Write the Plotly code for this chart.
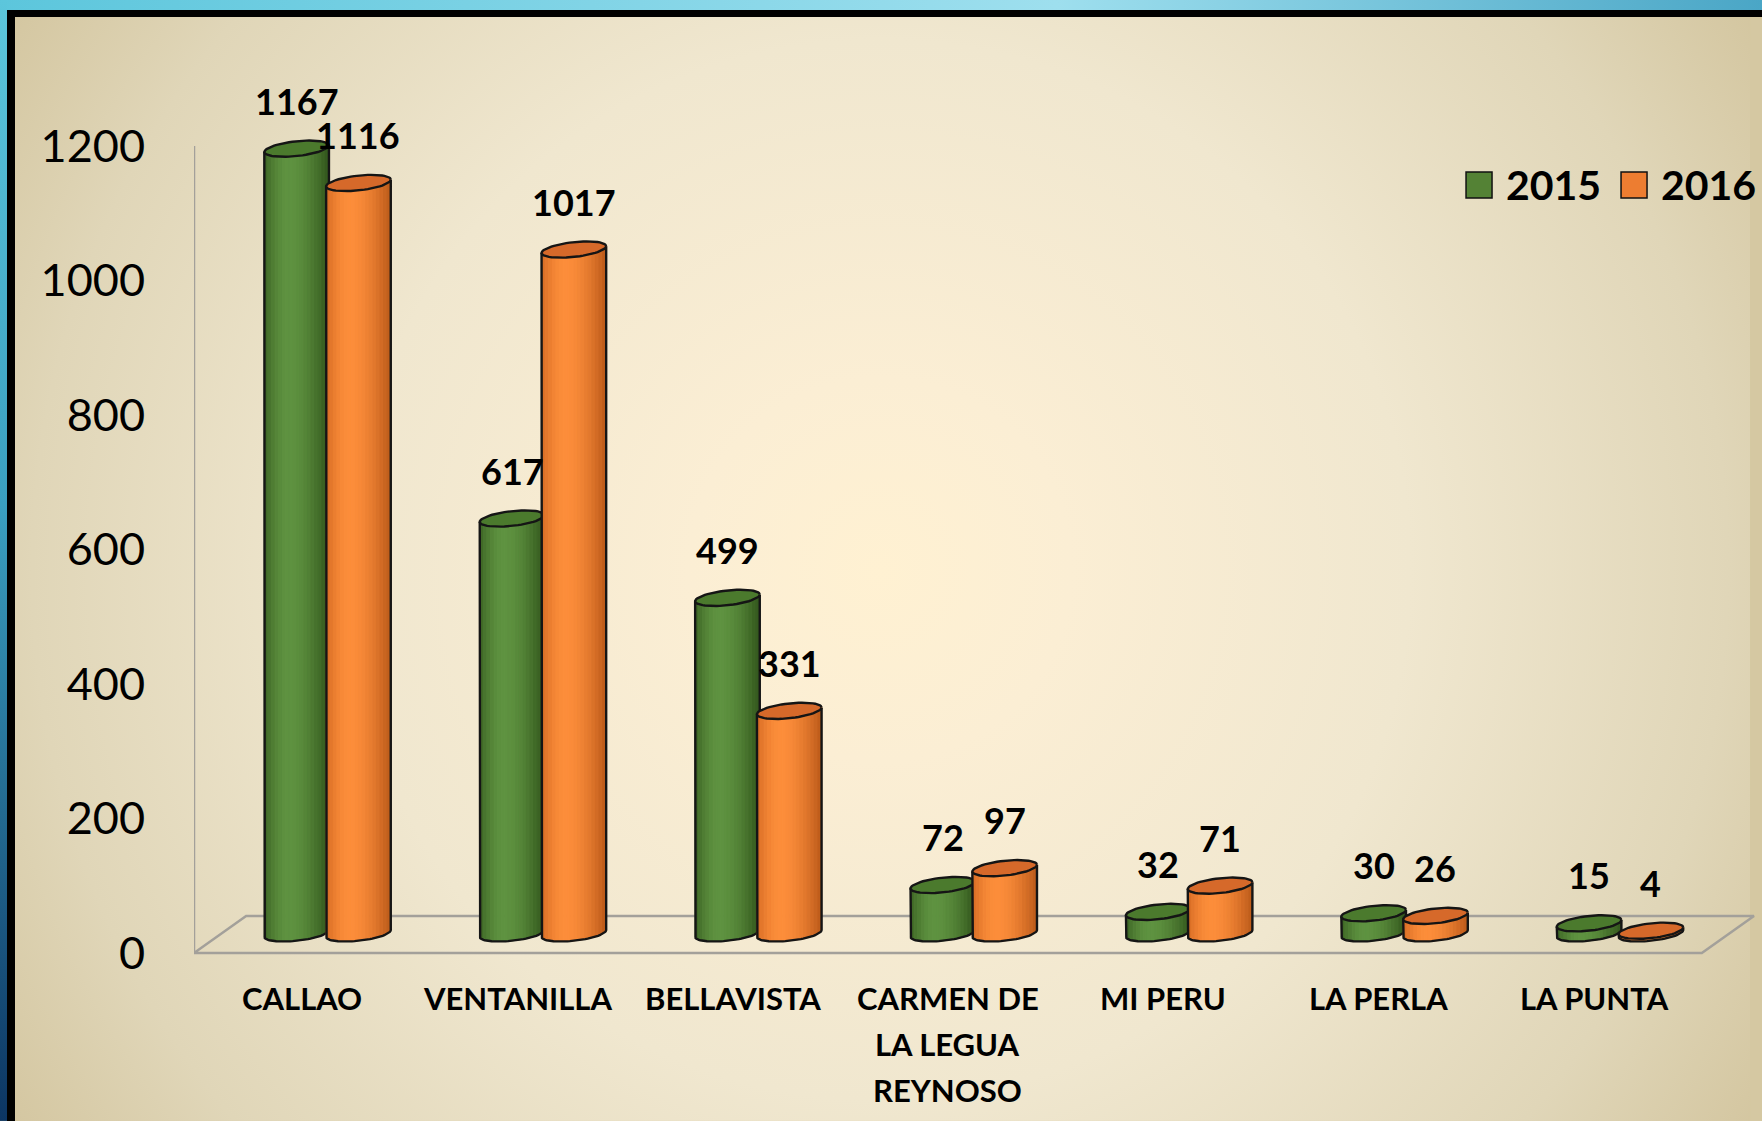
import base64
import numpy as np
import plotly.graph_objects as go

# ---------------- data ----------------
categories = ["CALLAO", "VENTANILLA", "BELLAVISTA", "CARMEN DE<br>LA LEGUA<br>REYNOSO",
              "MI PERU", "LA PERLA", "LA PUNTA"]
values_2015 = [1167, 617, 499, 72, 32, 30, 15]
values_2016 = [1116, 1017, 331, 97, 71, 26, 4]
series_names = ["2015", "2016"]
y_ticks = [0, 200, 400, 600, 800, 1000, 1200]

# ---------------- layout geometry ----------------
W, H = 1762, 1121
ML, MT = 194, 20
PX_X = 215.4          # pixels per category
PX_Y = 0.6725         # pixels per value unit
X0, X1 = -0.5, 6.77
PW = (X1 - X0) * PX_X
MR = W - ML - PW
Y_ZERO_PX = 953
Y_MIN = -15
Y_MAX = (Y_ZERO_PX - MT) / PX_Y
PH = (Y_MAX - Y_MIN) * PX_Y
MB = H - MT - PH

def pxx(px):
    return (px - ML) / PW

def pxy(py):
    return 1 - (py - MT) / PH

# 3D look parameters
BASE = 29.0           # cylinders sit in the middle of the floor depth
A = 0.15              # half width of cylinder (category units)
B = 11.0              # vertical semi-axis of ellipses (value units)
K = 5.0               # tilt of ellipses
GROUP_SHIFT = 0.12
HALF_GAP = 0.1435
FLOOR_DX, FLOOR_DY = 0.242, 55
NSTRIP = 18
LABEL_LINE_PX = 46

FONT = "Lato"

def mix(c1, c2, w):
    return tuple(int(round(a + (b - a) * w)) for a, b in zip(c1, c2))

def shade(u, cl, cp, cr, up=-0.25):
    if u < up:
        w = np.sin((u + 1) / (up + 1) * np.pi / 2)
        c = mix(cl, cp, w)
    else:
        w = 1 - np.cos((u - up) / (1 - up) * np.pi / 2)
        c = mix(cp, cr, w)
    return "rgb(%d,%d,%d)" % c

def cylinder_traces(xcs, vals, cl, cp, cr, topc):
    traces = []
    edges = np.linspace(-1, 1, NSTRIP + 1)
    for j in range(NSTRIP):
        u0, u1 = edges[j], edges[j + 1]
        uu = np.linspace(u0, u1, 6)
        xs, ys = [], []
        for xc, v in zip(xcs, vals):
            top = BASE + v
            bx = xc + A * uu
            by = BASE - B * np.sqrt(np.clip(1 - uu ** 2, 0, 1)) + K * uu
            tx = bx[::-1]
            ty = top + K * uu[::-1]
            xs += list(bx) + list(tx) + [bx[0], None]
            ys += list(by) + list(ty) + [by[0], None]
        col = shade((u0 + u1) / 2, cl, cp, cr)
        traces.append(go.Scatter(x=xs, y=ys, mode="lines", fill="toself", fillcolor=col,
                                 line=dict(color=col, width=1), hoverinfo="skip",
                                 showlegend=False))
    # outline of body
    t = np.linspace(np.pi, 2 * np.pi, 40)
    xs, ys = [], []
    for xc, v in zip(xcs, vals):
        top = BASE + v
        xs += [xc - A] + list(xc + A * np.cos(t)) + [xc + A, None]
        ys += [top - K] + list(BASE + B * np.sin(t) + K * np.cos(t)) + [top + K, None]
    traces.append(go.Scatter(x=xs, y=ys, mode="lines", line=dict(color="#151515", width=2.4),
                             hoverinfo="skip", showlegend=False))
    # top ellipses
    t = np.linspace(0, 2 * np.pi, 60)
    xs, ys = [], []
    for xc, v in zip(xcs, vals):
        top = BASE + v
        xs += list(xc + A * np.cos(t)) + [None]
        ys += list(top + B * np.sin(t) + K * np.cos(t)) + [None]
    traces.append(go.Scatter(x=xs, y=ys, mode="lines", fill="toself", fillcolor=topc,
                             line=dict(color="#151515", width=2.4), hoverinfo="skip",
                             showlegend=False))
    return traces

idx = np.arange(len(categories))
x_2015 = idx + GROUP_SHIFT - HALF_GAP
x_2016 = idx + GROUP_SHIFT + HALF_GAP

fig = go.Figure()

# floor (3D base) and vertical axis line
fx = [X0, X0 + FLOOR_DX, len(categories) - 0.5 + FLOOR_DX, len(categories) - 0.5, X0]
fy = [0, FLOOR_DY, FLOOR_DY, 0, 0]
fig.add_trace(go.Scatter(x=fx, y=fy, mode="lines", line=dict(color="#a3a09a", width=2.5),
                         hoverinfo="skip", showlegend=False))
fig.add_trace(go.Scatter(x=[X0, X0], y=[0, y_ticks[-1]], mode="lines",
                         line=dict(color="#a3a09a", width=2.5), hoverinfo="skip",
                         showlegend=False))

for tr in cylinder_traces(x_2015, values_2015, (60, 100, 36), (94, 146, 64), (50, 86, 28),
                          "#4b7a2d"):
    fig.add_trace(tr)
for tr in cylinder_traces(x_2016, values_2016, (214, 108, 36), (252, 141, 58), (188, 90, 26),
                          "#d6692a"):
    fig.add_trace(tr)

annotations = []
# data labels
for xs, vals in ((x_2015, values_2015), (x_2016, values_2016)):
    for xc, v in zip(xs, vals):
        annotations.append(dict(x=xc, y=BASE + v, xref="x", yref="y", text="<b>%d</b>" % v,
                                showarrow=False, yshift=48, yanchor="middle",
                                font=dict(family=FONT, size=36, color="#000")))
# category labels (one annotation per text line for Excel-like line spacing)
for i, c in enumerate(categories):
    for k, line in enumerate(c.split("<br>")):
        annotations.append(dict(x=i, y=0, xref="x", yref="y", text="<b>%s</b>" % line,
                                showarrow=False, yanchor="middle",
                                yshift=-45 - k * LABEL_LINE_PX,
                                font=dict(family=FONT, size=31, color="#000")))

# legend (custom, large squares)
leg_colors = ["#548235", "#ed7d31"]
leg_sq_x = [1466, 1621]
leg_txt_x = [1504, 1659]
shapes = []
for name, col, sx, tx in zip(series_names, leg_colors, leg_sq_x, leg_txt_x):
    shapes.append(dict(type="rect", xref="paper", yref="paper", x0=pxx(sx), x1=pxx(sx + 26),
                       y0=pxy(198), y1=pxy(172), fillcolor=col,
                       line=dict(color="#111", width=1.5)))
    annotations.append(dict(x=pxx(tx), y=pxy(185), xref="paper", yref="paper",
                            text="<b>%s</b>" % name, showarrow=False, xanchor="left",
                            yanchor="middle", font=dict(family=FONT, size=41, color="#000")))

# background picture: beige radial gradient, black frame, blue slide border (top + left)
svg = f"""<svg xmlns="http://www.w3.org/2000/svg" width="{W}" height="{H}" viewBox="0 0 {W} {H}" preserveAspectRatio="none">
<defs>
<linearGradient id="bt" x1="0" y1="0" x2="1" y2="0">
<stop offset="0" stop-color="#5cc6dc"/>
<stop offset="0.6" stop-color="#9edfee"/>
<stop offset="1" stop-color="#4aa6c6"/>
</linearGradient>
<linearGradient id="bl" x1="0" y1="0" x2="0" y2="1">
<stop offset="0" stop-color="#5cc6dc"/>
<stop offset="0.45" stop-color="#3a9fc0"/>
<stop offset="1" stop-color="#0c3562"/>
</linearGradient>
<radialGradient id="r" gradientUnits="userSpaceOnUse" cx="880" cy="570" r="1060">
<stop offset="0" stop-color="#fff1d2"/>
<stop offset="0.18" stop-color="#fbeed4"/>
<stop offset="0.5" stop-color="#f0e7cf"/>
<stop offset="0.8" stop-color="#e0d6b8"/>
<stop offset="1" stop-color="#d2c49d"/>
</radialGradient>
</defs>
<rect x="0" y="0" width="{W}" height="{H}" fill="url(#r)"/>
<rect x="7" y="10" width="8" height="{H}" fill="#000"/>
<rect x="7" y="10" width="{W}" height="7" fill="#000"/>
<rect x="0" y="0" width="{W}" height="10" fill="url(#bt)"/>
<rect x="0" y="0" width="7" height="{H}" fill="url(#bl)"/>
</svg>"""
src = "data:image/svg+xml;base64," + base64.b64encode(svg.encode()).decode()

# thin cover at the far right edge of the page, same tan as the gradient edge
shapes.append(dict(type="rect", xref="paper", yref="paper", layer="below",
                   x0=pxx(W - 12), x1=pxx(W + 12), y0=pxy(H + 5), y1=pxy(17),
                   fillcolor="#d5c8a2", line=dict(width=0)))

fig.update_layout(
    width=W, height=H,
    margin=dict(l=ML, r=MR, t=MT, b=MB, pad=0),
    paper_bgcolor="#d6c9a4",
    plot_bgcolor="rgba(0,0,0,0)",
    showlegend=False,
    images=[dict(source=src, xref="paper", yref="paper", x=-ML / PW, y=1 + MT / PH,
                 sizex=W / PW, sizey=H / PH, xanchor="left", yanchor="top",
                 sizing="stretch", layer="below")],
    xaxis=dict(range=[X0, X1], showgrid=False, zeroline=False, showticklabels=False,
               showline=False, fixedrange=True),
    yaxis=dict(range=[Y_MIN, Y_MAX], showgrid=False, zeroline=False, showline=False,
               tickvals=y_ticks, ticktext=[str(v) for v in y_ticks], ticks="",
               ticklabelstandoff=48, tickfont=dict(family=FONT, size=45, color="#000"),
               fixedrange=True),
    annotations=annotations,
    shapes=shapes,
)

fig.write_html("out.html",
               config={"displayModeBar": False},
               post_script="document.body.style.margin='0';"
                           "document.body.style.overflow='hidden';"
                           "document.documentElement.style.overflow='hidden';"
                           "document.documentElement.style.background='#d6c9a4';"
                           "document.body.style.background='#d6c9a4';")
